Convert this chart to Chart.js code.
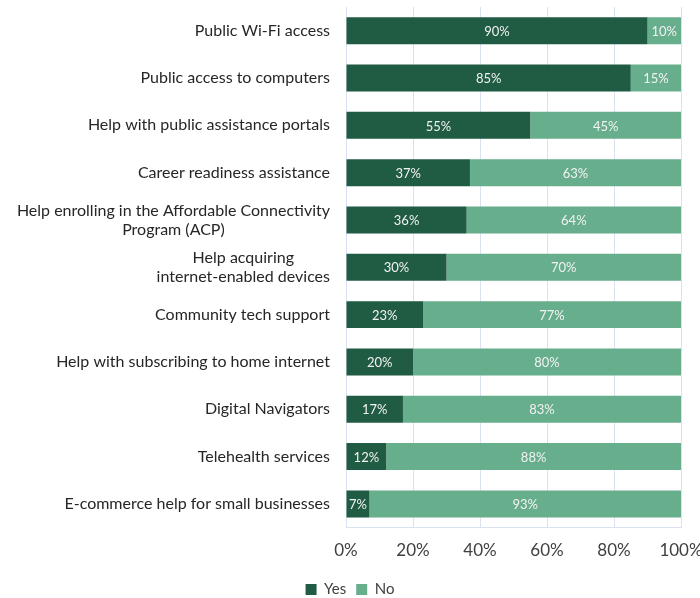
<!DOCTYPE html>
<html lang="en">
<head>
<meta charset="UTF-8">
<title>Library digital services</title>
<script src="https://cdn.jsdelivr.net/npm/chart.js@4"></script>
<style>
  html, body { margin: 0; padding: 0; background: #fff; }
  #wrap { width: 700px; height: 598px; }
</style>
</head>
<body>
<div id="wrap"><canvas id="servicesChart" width="700" height="598"></canvas></div>
<script>
const services = [
  ['Public Wi-Fi access'],
  ['Public access to computers'],
  ['Help with public assistance portals'],
  ['Career readiness assistance'],
  ['Help enrolling in the Affordable Connectivity', 'Program (ACP)'],
  ['Help acquiring', 'internet-enabled devices'],
  ['Community tech support'],
  ['Help with subscribing to home internet'],
  ['Digital Navigators'],
  ['Telehealth services'],
  ['E-commerce help for small businesses']
];
const yesValues = [90, 85, 55, 37, 36, 30, 23, 20, 17, 12, 7];
const noValues = [10, 15, 45, 63, 64, 70, 77, 80, 83, 88, 93];
const xTicks = [0, 20, 40, 60, 80, 100];

const FONT = 'Lato, "Open Sans", sans-serif';
const TEXT = '#404040';

// category names, lines centred within a right-aligned block
const categoryLabels = {
  id: 'categoryLabels',
  afterDraw(chart) {
    const ctx = chart.ctx;
    const y = chart.scales.y;
    const rightEdge = chart.chartArea.left - 16;
    const lineH = 19;
    ctx.save();
    ctx.font = '16px ' + FONT;
    ctx.fillStyle = '#262626';
    ctx.textAlign = 'center';
    ctx.textBaseline = 'middle';
    services.forEach((lines, i) => {
      const cy = y.getPixelForValue(i);
      const blockW = Math.max(...lines.map(l => ctx.measureText(l).width));
      const cx = rightEdge - blockW / 2;
      const top = cy - (lines.length - 1) * lineH / 2;
      lines.forEach((l, k) => ctx.fillText(l, cx, top + k * lineH));
    });
    ctx.restore();
  }
};

// percentage inside each segment
const segmentLabels = {
  id: 'segmentLabels',
  afterDatasetsDraw(chart) {
    const ctx = chart.ctx;
    ctx.save();
    ctx.font = '13px ' + FONT;
    ctx.fillStyle = '#F2F2F2';
    ctx.textAlign = 'center';
    ctx.textBaseline = 'middle';
    chart.data.datasets.forEach((ds, di) => {
      chart.getDatasetMeta(di).data.forEach((bar, i) => {
        const p = bar.getProps(['x', 'y', 'base'], true);
        ctx.fillText(ds.data[i] + '%', (p.x + p.base) / 2, p.y + 1);
      });
    });
    ctx.restore();
  }
};

new Chart(document.getElementById('servicesChart'), {
  type: 'bar',
  data: {
    labels: services.map(s => s.join(' ')),
    datasets: [
      { label: 'Yes', data: yesValues, backgroundColor: '#1F5C43' },
      { label: 'No', data: noValues, backgroundColor: '#67AE8C' }
    ]
  },
  options: {
    indexAxis: 'y',
    responsive: false,
    animation: false,
    events: [],
    categoryPercentage: 1,
    barPercentage: 0.57,
    layout: { padding: { top: 7, right: 0, bottom: -9, left: 0 } },
    scales: {
      x: {
        stacked: true,
        min: 0,
        max: 100,
        afterBuildTicks(scale) { scale.ticks = xTicks.map(v => ({ value: v })); },
        afterFit(scale) {
          scale.height -= 2;
          scale.paddingRight = 19;
        },
        grid: { color: '#D9E1F2', drawTicks: false },
        border: { color: '#D9E1F2' },
        ticks: {
          padding: 13,
          color: TEXT,
          font: { family: FONT, size: 17 },
          callback: v => v + '%'
        }
      },
      y: {
        stacked: true,
        grid: { display: false },
        border: { display: false },
        ticks: { display: false },
        afterFit(scale) { scale.width = 346; }
      }
    },
    plugins: {
      legend: {
        position: 'bottom',
        labels: {
          boxWidth: 11,
          boxHeight: 11,
          padding: 10,
          color: TEXT,
          font: { family: FONT, size: 15 }
        }
      },
      tooltip: { enabled: false }
    }
  },
  plugins: [categoryLabels, segmentLabels]
});
</script>
</body>
</html>
